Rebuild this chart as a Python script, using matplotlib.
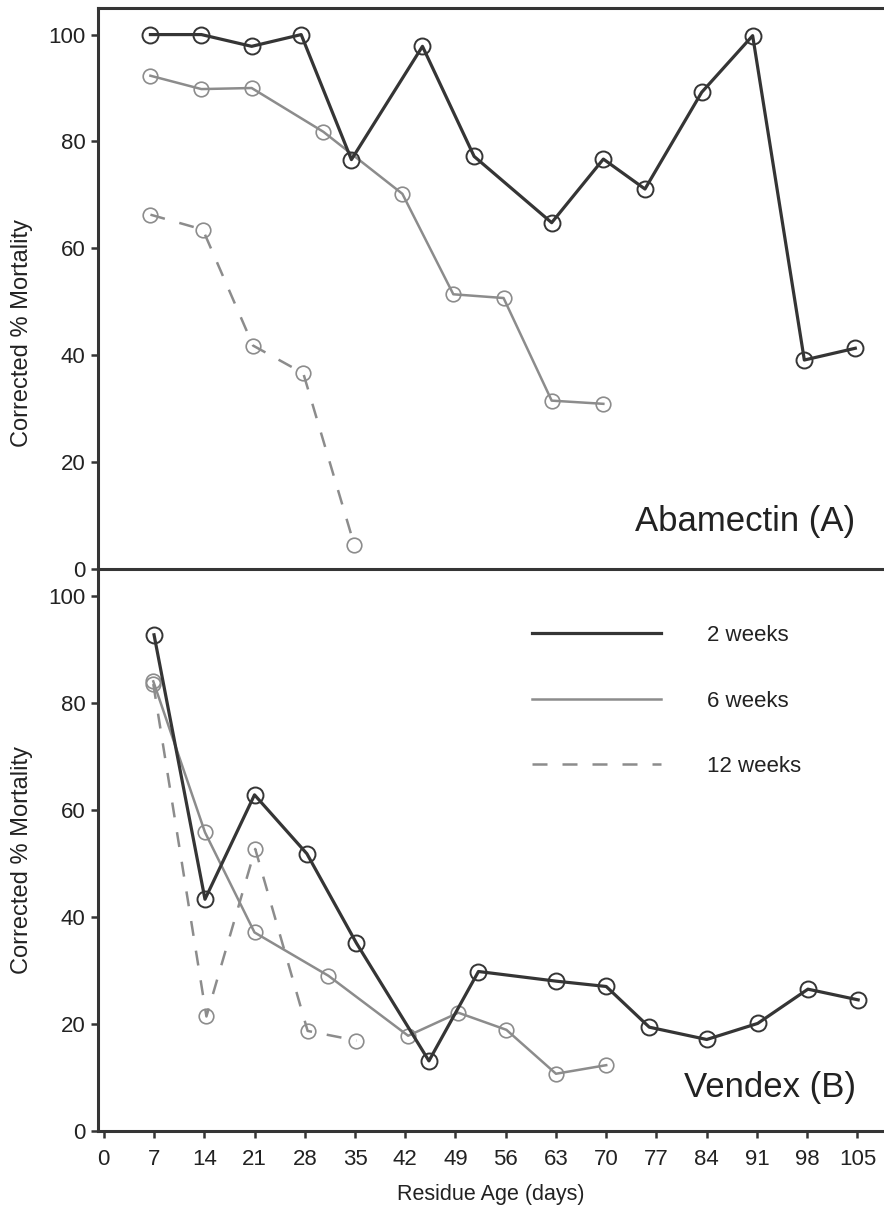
import matplotlib
matplotlib.use("Agg")
import matplotlib.pyplot as plt
from matplotlib.lines import Line2D

plt.rcParams["font.family"] = ["Liberation Sans", "DejaVu Sans"]

# Abamectin (A)
aba_2wk_days = [6.5, 13.6, 20.6, 27.5, 34.5, 44.4, 51.6, 62.4, 69.6, 75.4, 83.3, 90.4, 97.6, 104.7]
aba_2wk_mort = [100, 100, 97.8, 100, 76.6, 97.8, 77.2, 64.8, 76.7, 71.1, 89.2, 99.8, 39.1, 41.3]
aba_6wk_days = [6.5, 13.6, 20.6, 30.6, 41.6, 48.7, 55.7, 62.4, 69.6]
aba_6wk_mort = [92.3, 89.8, 90.0, 81.8, 70.2, 51.4, 50.7, 31.5, 30.9]
aba_12wk_days = [6.5, 13.8, 20.8, 27.8, 34.9]
aba_12wk_mort = [66.3, 63.5, 41.8, 36.6, 4.5]

# Vendex (B)
ven_2wk_days = [7.0, 14.1, 21.0, 28.3, 35.2, 45.3, 52.2, 63.0, 70.0, 76.0, 84.0, 91.1, 98.1, 105.1]
ven_2wk_mort = [92.7, 43.3, 62.8, 51.8, 35.1, 13.1, 29.8, 28.0, 27.0, 19.4, 17.1, 20.1, 26.5, 24.5]
ven_6wk_days = [6.9, 14.1, 21.0, 31.3, 42.4, 49.4, 56.1, 63.0, 70.0]
ven_6wk_mort = [84.0, 55.8, 37.1, 29.0, 17.8, 22.1, 18.9, 10.7, 12.3]
ven_12wk_days = [6.9, 14.3, 21.1, 28.4, 35.2]
ven_12wk_mort = [83.5, 21.4, 52.7, 18.7, 16.9]

x_ticks = list(range(0, 106, 7))
y_ticks = [0, 20, 40, 60, 80, 100]
series_labels = ["2 weeks", "6 weeks", "12 weeks"]

DARK = "#353535"
GREY = "#8c8c8c"
TEXT = "#222222"

styles = [
    dict(color=DARK, lw=2.3, ls="-", marker="o", ms=11.5, mfc="none", mec=DARK, mew=1.4),
    dict(color=GREY, lw=1.8, ls="-", marker="o", ms=10.5, mfc="none", mec=GREY, mew=1.2),
    dict(color=GREY, lw=1.8, ls=(0, (6, 6)), marker="o", ms=10.5, mfc="none", mec=GREY, mew=1.2),
]

fig = plt.figure(figsize=(8.84, 12.09), dpi=100)
ax_b = fig.add_axes([0.1109, 0.0645, 0.8891, 0.4649])
ax_a = fig.add_axes([0.1109, 0.5294, 0.8891, 0.4641])
ax_a.patch.set_visible(False)
ax_b.patch.set_visible(False)

panels = [
    (ax_a, [(aba_2wk_days, aba_2wk_mort), (aba_6wk_days, aba_6wk_mort), (aba_12wk_days, aba_12wk_mort)], 0.42),
    (ax_b, [(ven_2wk_days, ven_2wk_mort), (ven_6wk_days, ven_6wk_mort), (ven_12wk_days, ven_12wk_mort)], 0.482),
]

for ax, data, label_y in panels:
    for (days, mort), st in reversed(list(zip(data, styles))):
        ax.plot(days, mort, **st)
    ax.set_xlim(-0.8, 108.7)
    ax.set_ylim(0, 105)
    ax.set_yticks(y_ticks)
    ax.set_ylabel("Corrected % Mortality", fontsize=17, color=TEXT)
    ax.yaxis.set_label_coords(-0.083, label_y)
    ax.spines["right"].set_visible(False)
    for sp in ax.spines.values():
        sp.set_linewidth(2.2)
        sp.set_color(DARK)
    ax.tick_params(axis="y", direction="out", length=5, width=1.8, color=DARK,
                   labelsize=16, labelcolor=TEXT, pad=4)

ax_b.spines["top"].set_visible(False)
ax_a.tick_params(axis="x", bottom=False, labelbottom=False)
ax_b.set_xticks(x_ticks)
ax_b.tick_params(axis="x", direction="out", length=5, width=1.8, color=DARK,
                 labelsize=16, labelcolor=TEXT, pad=8)
ax_b.set_xlabel("Residue Age (days)", fontsize=15.5, color=TEXT, labelpad=10)

ax_a.text(0.963, 0.084, "Abamectin (A)", transform=ax_a.transAxes, ha="right",
          va="center", fontsize=25, color=TEXT)
ax_b.text(0.965, 0.077, "Vendex (B)", transform=ax_b.transAxes, ha="right",
          va="center", fontsize=25, color=TEXT)

handles = [Line2D([], [], color=st["color"], lw=st["lw"], ls=st["ls"]) for st in styles]
ax_b.legend(handles, series_labels, loc="upper left", bbox_to_anchor=(0.552, 0.9),
            frameon=False, fontsize=16, handlelength=5.8, handletextpad=2.1,
            labelspacing=2.0, borderpad=0, borderaxespad=0, labelcolor=TEXT)

fig.savefig("out.png", dpi=100)
